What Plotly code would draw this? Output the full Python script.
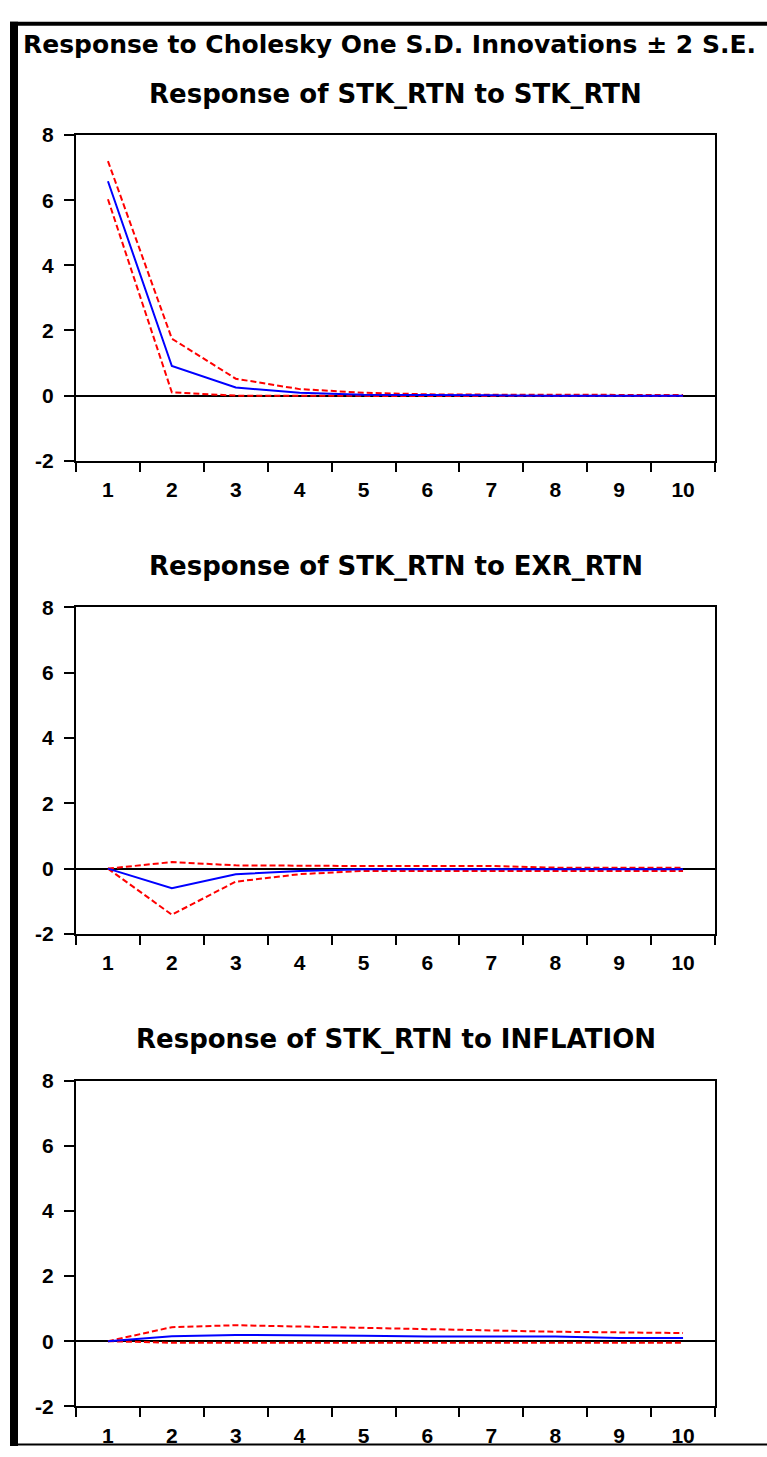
import plotly.graph_objects as go

W, H = 767, 1457

periods = [1, 2, 3, 4, 5, 6, 7, 8, 9, 10]
tick_labels = ["1", "2", "3", "4", "5", "6", "7", "8", "9", "10"]
y_ticks = [-2, 0, 2, 4, 6, 8]
y_tick_labels = ["-2", "0", "2", "4", "6", "8"]

main_title = "Response to Cholesky One S.D. Innovations \u00b1 2 S.E."
panel_titles = [
    "Response of STK_RTN to STK_RTN",
    "Response of STK_RTN to EXR_RTN",
    "Response of STK_RTN to INFLATION",
]

stk_resp = [6.58, 0.91, 0.25, 0.09, 0.03, 0.01, 0.01, 0.00, 0.00, 0.00]
stk_upper = [7.20, 1.75, 0.52, 0.20, 0.09, 0.04, 0.03, 0.02, 0.02, 0.02]
stk_lower = [6.03, 0.10, 0.00, -0.01, -0.01, -0.01, -0.01, -0.01, -0.01, -0.01]

exr_resp = [0.00, -0.60, -0.17, -0.07, -0.02, -0.02, -0.02, -0.02, -0.02, -0.02]
exr_upper = [0.00, 0.20, 0.10, 0.08, 0.08, 0.08, 0.08, 0.03, 0.03, 0.03]
exr_lower = [0.00, -1.41, -0.40, -0.17, -0.07, -0.07, -0.07, -0.07, -0.07, -0.07]

inf_resp = [0.00, 0.15, 0.19, 0.19, 0.17, 0.14, 0.14, 0.14, 0.10, 0.10]
inf_upper = [0.00, 0.43, 0.49, 0.45, 0.41, 0.36, 0.34, 0.29, 0.27, 0.25]
inf_lower = [0.00, -0.05, -0.05, -0.05, -0.05, -0.05, -0.05, -0.05, -0.05, -0.05]

panels = [
    (stk_resp, stk_upper, stk_lower),
    (exr_resp, exr_upper, exr_lower),
    (inf_resp, inf_upper, inf_lower),
]

# pixel layout (top, bottom) of each plot area
px_left, px_right = 76, 715
px_rows = [(125, 456), (605, 936.7), (1085.7, 1416.7)]

fig = go.Figure()

for i, (resp, up, lo) in enumerate(panels):
    n = "" if i == 0 else str(i + 1)
    xa, ya = "x" + n, "y" + n
    for band in (up, lo):
        fig.add_trace(go.Scatter(
            x=periods, y=band, xaxis=xa, yaxis=ya, mode="lines",
            line=dict(color="#FF0000", width=2, dash="6px,3px"),
            showlegend=False, hoverinfo="skip"))
    fig.add_trace(go.Scatter(
        x=periods, y=resp, xaxis=xa, yaxis=ya, mode="lines",
        line=dict(color="#0000FF", width=2),
        showlegend=False))

tickfont = dict(family="Liberation Sans, Arial", size=21, color="black", weight="bold")
layout = dict(
    width=W, height=H,
    margin=dict(l=0, r=0, t=0, b=0),
    paper_bgcolor="white", plot_bgcolor="white",
    showlegend=False,
)
for i, (top, bot) in enumerate(px_rows):
    n = "" if i == 0 else str(i + 1)
    layout["xaxis" + n] = dict(
        domain=[px_left / W, px_right / W],
        anchor="y" + n,
        range=[0.5, 10.5],
        tickmode="array", tickvals=periods, ticktext=tick_labels,
        ticks="outside", ticklen=9, tickcolor="rgba(0,0,0,0)",
        minor=dict(tickmode="array", tickvals=[p - 0.5 for p in periods] + [10.5],
                   ticks="outside", ticklen=9, tickwidth=1.5, tickcolor="black"),
        showgrid=False, zeroline=False,
        showline=True, mirror=True, linecolor="black", linewidth=2,
        tickfont=tickfont, fixedrange=True,
    )
    layout["yaxis" + n] = dict(
        domain=[1 - bot / H, 1 - top / H],
        anchor="x" + n,
        range=[-2, 8],
        tickmode="array", tickvals=y_ticks, ticktext=y_tick_labels,
        ticks="outside", ticklen=10, tickwidth=1.5, tickcolor="black",
        ticklabelstandoff=6,
        showgrid=False,
        zeroline=True, zerolinecolor="black", zerolinewidth=2,
        showline=True, mirror=True, linecolor="black", linewidth=2,
        tickfont=tickfont, fixedrange=True,
    )

fig.update_layout(**layout)

titlefont = dict(family="DejaVu Sans", size=26, color="black", weight="bold")
annotations = [dict(
    text=main_title, xref="paper", yref="paper",
    x=21 / W, y=1 - 33 / H, xanchor="left", yanchor="middle",
    showarrow=False, font=dict(family="DejaVu Sans", size=25, color="black", weight="bold"))]
for t, (top, bot) in zip(panel_titles, px_rows):
    annotations.append(dict(
        text=t, xref="paper", yref="paper",
        x=(px_left + px_right) / 2 / W, y=1 - (top - 42) / H,
        xanchor="center", yanchor="middle", showarrow=False, font=titlefont))
fig.update_layout(annotations=annotations)

# outer black frame of the original graphic
frame = [
    (10, 10, W, 14),
    (10, 10, 18, H),
    (10, 1454.5, W, 1456.5),
]
shapes = []
for x0, y0, x1, y1 in frame:
    shapes.append(dict(type="rect", xref="paper", yref="paper",
                       x0=x0 / W, x1=x1 / W, y0=1 - y0 / H, y1=1 - y1 / H,
                       fillcolor="black", line=dict(width=0), layer="above"))
fig.update_layout(shapes=shapes)

fig.write_html(
    "out.html",
    config={"displayModeBar": False, "responsive": False},
    post_script=(
        "document.documentElement.style.margin='0';"
        "document.body.style.margin='0';"
        "document.body.style.overflow='hidden';"
        "var g=document.getElementById('{plot_id}');"
        "g.style.position='absolute';g.style.left='0px';g.style.top='0px';"
    ),
)
